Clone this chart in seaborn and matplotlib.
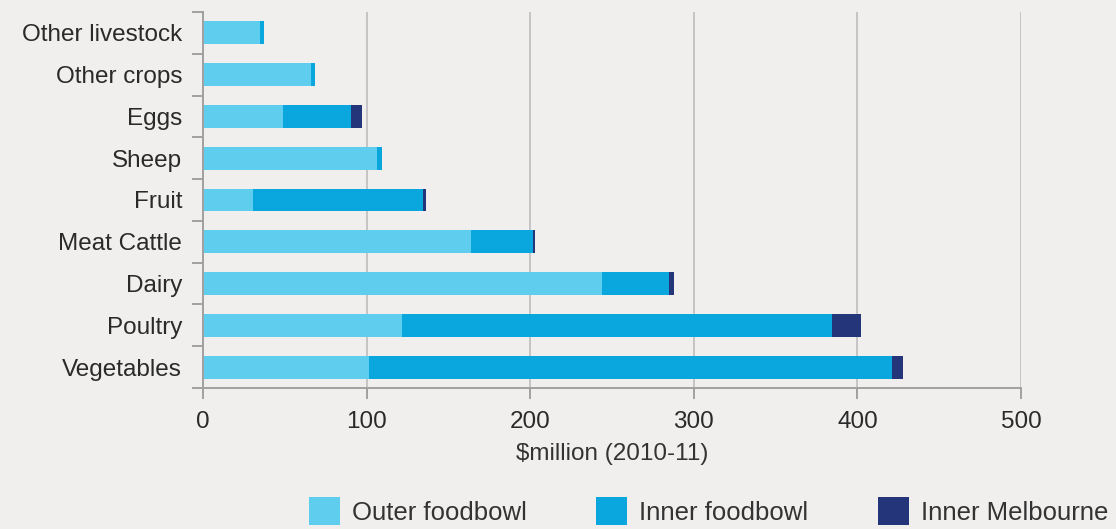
import matplotlib
matplotlib.use("Agg")
import matplotlib.pyplot as plt
from matplotlib.patches import Patch
import seaborn as sns
import pandas as pd
import numpy as np

categories = ["Other livestock", "Other crops", "Eggs", "Sheep", "Fruit",
              "Meat Cattle", "Dairy", "Poultry", "Vegetables"]
outer_foodbowl = [35, 66, 49, 106.5, 30.5, 164, 244, 121.5, 101.5]
inner_foodbowl = [2, 2.5, 41.5, 3, 104, 37.5, 41, 263, 319.5]
inner_melbourne = [0, 0, 6.5, 0, 1.8, 1.2, 2.6, 18, 7]
series_names = ["Outer foodbowl", "Inner foodbowl", "Inner Melbourne"]
xticks = [0, 100, 200, 300, 400, 500]
xlabel = "$million (2010-11)"

colors = ["#5ECDEE", "#0AA7DF", "#24357A"]
bg = "#F0EFEE"

sns.set_theme(style="white")
plt.rcParams["font.family"] = ["Liberation Sans", "DejaVu Sans"]

df = pd.DataFrame({
    "category": categories,
    "outer": outer_foodbowl,
    "inner": inner_foodbowl,
    "melb": inner_melbourne,
})
df["c1"] = df["outer"]
df["c2"] = df["outer"] + df["inner"]
df["c3"] = df["c2"] + df["melb"]

fig = plt.figure(figsize=(11.16, 5.29), dpi=100, facecolor=bg)
ax = fig.add_axes([203 / 1116, 1 - 388 / 529, (1021 - 203) / 1116, (388 - 12) / 529])
ax.set_facecolor(bg)

for col, c in zip(["c3", "c2", "c1"], colors[::-1]):
    sns.barplot(data=df, y="category", x=col, order=categories, color=c,
                width=0.55, ax=ax, saturation=1, linewidth=0, orient="h")

ax.set_xlim(0, 500)
ax.set_ylim(len(categories) - 0.5, -0.5)
ax.set_xticks(xticks)
ax.set_xticklabels([str(t) for t in xticks])
ax.set_xlabel(xlabel, fontsize=17.5, color="#333333", labelpad=7.5)
ax.set_ylabel("")

ax.grid(axis="x", color="#C4C4C4", linewidth=1.4, zorder=0)
ax.set_axisbelow(True)
for s in ["top", "right"]:
    ax.spines[s].set_visible(False)
for s in ["left", "bottom"]:
    ax.spines[s].set_color("#A0A0A0")
    ax.spines[s].set_linewidth(1.4)

# category labels without ticks, ticks at category boundaries
ax.set_yticks(range(len(categories)))
ax.set_yticklabels(categories, fontsize=17.5, color="#2a2a2a")
ax.tick_params(axis="y", length=0, pad=15)
ax.set_yticks(np.arange(-0.5, len(categories), 1.0), minor=True)
ax.tick_params(axis="y", which="minor", length=8, width=1.4, color="#A0A0A0", direction="out", left=True)
ax.tick_params(axis="x", length=8, width=1.4, color="#A0A0A0", direction="out", labelsize=17.5,
               labelcolor="#2a2a2a", pad=8.5, bottom=True)

handles = [Patch(facecolor=c, edgecolor="none") for c in colors]
fig.legend(handles, series_names, loc="lower right", bbox_to_anchor=(1108 / 1116, 4 / 529), ncol=3,
           frameon=False, fontsize=18.5, handlelength=1.2, handleheight=1.3,
           handletextpad=0.47, columnspacing=2.7, labelcolor="#333333",
           borderpad=0, borderaxespad=0)

fig.savefig("out.png", dpi=100, facecolor=bg)
